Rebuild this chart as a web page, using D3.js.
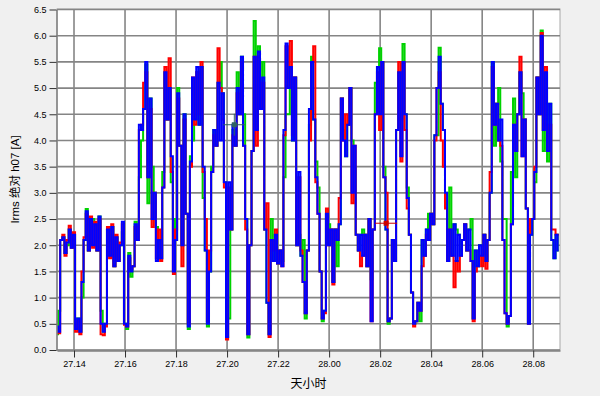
<!DOCTYPE html>
<html>
<head>
<meta charset="utf-8">
<script src="https://cdn.jsdelivr.net/npm/d3@7/dist/d3.min.js"></script>
<style>
  html, body { margin: 0; padding: 0; background: #f0f0f0; }
  svg { display: block; font-family: "Liberation Sans", Arial, sans-serif; }
</style>
</head>
<body>
<svg id="chart" width="600" height="396"></svg>
<script>
// samples every 5 minutes starting at 27.13:20
var startTime = "2021-01-27 13:20";
var endTime = "2021-01-28 09:03";
var stepMinutes = 5;

var blueValues = [
  0.45,0.35,2.1,2.15,1.85,2.05,2.3,1.95,2.2,0.4,
  0.6,0.35,1.3,2.1,2.65,1.9,2.5,2.0,2.4,1.9,
  2.55,0.5,0.35,0.5,2.3,1.8,2.35,1.6,2.15,1.7,
  2.0,2.45,0.5,0.45,1.8,1.5,1.6,2.4,2.1,4.3,
  4.2,4.6,5.5,3.3,4.8,2.5,3.0,1.7,2.1,1.75,
  3.1,5.3,4.4,5.0,3.7,1.5,2.1,4.9,3.9,2.0,
  4.5,2.6,0.45,3.6,5.2,4.4,5.4,4.3,5.4,3.5,
  1.9,0.5,1.5,3.4,4.2,3.9,5.1,4.0,4.9,3.2,
  0.25,3.2,2.3,4.3,3.9,5.0,4.5,5.6,3.9,2.5,
  0.3,2.0,3.8,5.6,4.2,5.7,4.6,5.2,2.3,0.9,
  0.3,2.1,1.7,2.2,1.65,1.9,1.6,4.2,5.85,5.0,
  5.4,4.0,5.2,2.0,3.4,1.8,1.3,0.7,1.9,4.6,
  5.5,4.4,3.3,2.6,1.5,0.6,0.75,2.6,2.0,2.3,
  1.3,2.3,2.1,2.4,4.8,4.0,3.7,4.3,5.0,3.0,
  3.9,2.2,1.9,2.2,1.8,2.2,1.6,2.5,0.55,2.3,
  4.5,5.4,4.5,5.5,3.3,2.3,0.55,0.6,2.1,1.7,
  4.2,5.3,3.7,5.5,4.5,2.9,2.2,1.1,0.5,0.55,
  0.9,0.75,2.1,1.8,2.3,2.1,2.6,2.4,4.1,5.0,
  5.6,4.7,4.2,3.0,1.7,2.3,1.8,2.4,1.7,2.2,
  1.8,2.1,2.4,1.9,2.3,1.7,0.6,1.9,1.6,2.0,
  1.8,2.2,1.7,2.1,3.0,5.5,4.3,4.7,4.0,4.4,
  2.1,0.7,0.5,0.65,2.4,4.3,3.8,4.5,5.3,3.7,
  4.4,2.7,0.5,2.2,2.5,3.4,5.2,4.5,6.0,4.2,
  5.3,3.8,4.7,2.1,1.75,2.2,1.9
];

var redValues = [
  0.4,0.32,2.1,2.2,1.8,2.1,2.37,1.95,2.25,0.35,
  0.55,0.3,1.5,2.15,2.6,1.9,2.55,1.95,2.45,1.9,
  2.5,0.3,0.28,0.45,2.35,1.75,2.4,1.6,2.2,1.7,
  2.05,2.4,0.48,0.45,1.75,1.55,1.6,2.35,2.1,4.2,
  4.3,5.1,5.3,3.3,4.6,2.35,3.0,1.75,2.3,1.7,
  3.1,5.4,4.4,5.57,3.4,1.45,2.3,4.8,3.9,1.6,
  4.4,2.6,0.5,3.5,5.2,4.3,5.3,4.5,5.5,3.4,
  2.5,0.55,1.9,3.4,4.1,3.9,5.76,5.0,4.4,3.1,
  0.2,3.1,2.3,4.1,3.9,4.9,4.5,5.5,3.9,2.3,
  0.3,2.0,3.8,5.6,3.9,5.6,4.6,5.1,2.3,2.8,
  0.25,2.1,1.9,2.3,1.65,1.9,1.6,4.1,5.8,5.0,
  5.9,4.1,5.2,2.0,3.3,1.9,1.3,0.7,1.9,4.0,
  5.5,5.8,3.2,2.6,1.5,0.6,0.7,2.7,2.0,2.3,
  1.25,2.3,2.1,2.9,4.8,4.0,4.5,4.3,5.0,2.8,
  3.9,2.2,1.9,1.6,1.8,2.2,1.6,2.5,0.55,2.3,
  4.5,5.3,4.2,5.5,3.3,3.0,0.55,0.6,2.1,1.7,
  4.2,5.5,3.6,5.5,4.2,2.7,2.2,1.1,0.45,0.55,
  0.9,0.75,1.6,1.8,2.2,2.1,2.6,2.4,4.0,5.0,
  5.3,4.0,3.5,2.7,1.7,2.3,1.8,1.2,1.7,1.5,
  1.8,2.1,2.4,1.9,1.9,1.7,0.55,1.5,1.6,1.8,
  1.6,2.2,1.55,2.1,3.4,5.4,4.3,4.7,4.0,3.9,
  2.1,0.7,0.5,0.65,2.4,4.3,3.8,4.5,5.6,3.7,
  4.4,2.7,0.5,2.5,2.5,3.5,5.2,4.5,6.05,4.2,
  5.4,3.8,4.3,2.3,2.3,2.2,2.2
];

var greenValues = [
  0.3,0.75,2.1,2.15,1.85,2.0,2.3,1.95,2.2,0.4,
  0.6,0.35,1.0,2.1,2.69,1.9,2.5,2.5,2.4,1.9,
  2.55,0.75,0.35,0.5,2.3,1.8,2.35,1.6,2.15,1.7,
  2.0,2.25,0.5,0.4,1.85,1.4,1.6,2.45,2.1,3.3,
  4.0,4.6,5.45,2.8,4.8,3.5,3.0,2.35,2.1,1.75,
  3.4,5.3,4.4,5.0,3.2,2.5,2.1,5.0,3.9,2.0,
  4.5,2.6,0.4,3.7,4.0,4.4,5.3,4.3,5.4,2.9,
  1.9,0.45,1.5,3.5,4.2,3.9,5.1,5.5,4.9,3.2,
  0.25,0.6,2.3,4.2,3.9,5.3,4.5,5.6,4.5,2.5,
  0.24,2.0,3.8,6.28,4.2,5.8,4.6,5.5,2.3,0.9,
  0.3,2.5,1.7,2.2,1.65,1.9,1.7,3.3,4.5,4.5,
  5.4,4.0,5.2,2.0,2.2,1.8,2.1,0.6,1.9,4.3,
  5.6,4.4,3.6,3.1,1.5,0.55,0.75,2.6,2.4,2.3,
  1.3,2.3,1.6,2.4,4.8,4.2,3.7,4.3,5.0,4.0,
  3.5,2.2,1.9,2.2,2.3,2.2,1.6,2.5,1.35,2.3,
  5.1,5.4,5.76,5.5,3.5,2.3,0.5,0.6,2.1,1.7,
  4.2,5.3,4.4,5.84,4.5,3.1,2.2,1.1,0.5,0.55,
  0.9,0.55,2.1,1.8,2.3,2.6,2.6,2.4,4.1,4.1,
  5.77,4.7,4.2,3.0,1.7,3.1,1.8,2.4,2.3,2.2,
  1.8,2.1,2.4,1.9,2.3,2.5,0.6,1.9,1.6,2.0,
  2.0,2.2,1.7,2.1,3.0,5.5,3.9,4.7,5.0,3.6,
  2.5,2.5,0.45,0.65,3.4,4.8,3.3,4.5,5.3,4.9,
  4.4,2.7,0.5,2.2,2.5,3.2,5.2,4.5,6.1,3.8,
  5.3,3.6,4.7,2.1,1.75,2.2,1.9
];

var yTicks = [0,0.5,1,1.5,2,2.5,3,3.5,4,4.5,5,5.5,6,6.5];

// the two cursor markers sitting on the plot
var cursorTimes = ["2021-01-27 20:17", "2021-01-28 02:14"];
var cursorValues = [4.3, 2.42];
var cursorColors = ["#2f6363", "#cc0000"];

var parse = d3.timeParse("%Y-%m-%d %H:%M");
var t0 = parse(startTime);

function toPoints(values) {
  return values.map(function(v, i) {
    return { t: d3.timeMinute.offset(t0, i * stepMinutes), v: v };
  });
}

var svg = d3.select("#chart");
var plotLeft = 57, plotRight = 560, plotTop = 9, plotBottom = 350;

var x = d3.scaleTime()
  .domain([t0, parse(endTime)])
  .range([plotLeft, plotRight]);

var y = d3.scaleLinear()
  .domain([0, 6.5])
  .range([plotBottom, plotTop + 0.5]);

svg.append("rect")
  .attr("width", 600).attr("height", 396)
  .attr("fill", "#f0f0f0");

svg.append("rect")
  .attr("x", plotLeft).attr("y", plotTop)
  .attr("width", plotRight - plotLeft).attr("height", plotBottom - plotTop)
  .attr("fill", "#ffffff")
  .attr("stroke", "#a8a8a8")
  .attr("stroke-width", 1);

// grid
var xTicks = x.ticks(d3.timeHour.every(2));

svg.append("g").selectAll("line")
  .data(yTicks)
  .enter().append("line")
  .attr("x1", plotLeft).attr("x2", plotRight)
  .attr("y1", function(d) { return y(d); })
  .attr("y2", function(d) { return y(d); })
  .attr("stroke", "#858585")
  .attr("stroke-width", 1.6);

svg.append("g").selectAll("line")
  .data(xTicks)
  .enter().append("line")
  .attr("x1", function(d) { return x(d); })
  .attr("x2", function(d) { return x(d); })
  .attr("y1", plotTop).attr("y2", plotBottom)
  .attr("stroke", "#858585")
  .attr("stroke-width", 1.6);

// series, blue on top
svg.append("clipPath").attr("id", "plotclip")
  .append("rect")
  .attr("x", plotLeft).attr("y", plotTop)
  .attr("width", plotRight - plotLeft).attr("height", plotBottom - plotTop);

// dense logger data: draw as steps so it reads as vertical strokes
var line = d3.line()
  .curve(d3.curveStep)
  .x(function(d) { return x(d.t); })
  .y(function(d) { return y(d.v); });

var series = [
  { values: greenValues, color: "#00d200" },
  { values: redValues, color: "#ff0000" },
  { values: blueValues, color: "#0000ff" }
];

svg.append("g")
  .attr("clip-path", "url(#plotclip)")
  .selectAll("path")
  .data(series)
  .enter().append("path")
  .attr("d", function(d) { return line(toPoints(d.values)); })
  .attr("fill", "none")
  .attr("stroke", function(d) { return d.color; })
  .attr("stroke-width", 2)
  .attr("stroke-linejoin", "miter");

// cursors
cursorTimes.forEach(function(c, i) {
  var cx = x(parse(c)), cy = y(cursorValues[i]);
  var g = svg.append("g");
  g.append("line")
    .attr("x1", cx - 11).attr("x2", cx + 11)
    .attr("y1", cy).attr("y2", cy)
    .attr("stroke", cursorColors[i]).attr("stroke-width", 1);
  if (i == 0) {
    g.append("line")
      .attr("x1", cx).attr("x2", cx)
      .attr("y1", cy - 11).attr("y2", cy + 11)
      .attr("stroke", cursorColors[i]).attr("stroke-width", 1);
  }
  g.append("rect")
    .attr("x", cx - 2.5).attr("y", cy - 2.5)
    .attr("width", 5).attr("height", 5)
    .attr("fill", cursorColors[i]);
});

// axes
var yAxis = svg.append("g")
  .attr("transform", "translate(" + (plotLeft - 0.5) + ",0)")
  .call(d3.axisLeft(y).tickValues(yTicks).tickFormat(d3.format(".1f"))
    .tickSizeInner(7).tickSizeOuter(0).tickPadding(3));

var xAxis = svg.append("g")
  .attr("transform", "translate(0," + (plotBottom + 0.5) + ")")
  .call(d3.axisBottom(x).tickValues(xTicks).tickFormat(d3.timeFormat("%d.%H"))
    .tickSizeInner(7).tickSizeOuter(0).tickPadding(3));

[yAxis, xAxis].forEach(function(a) {
  a.select(".domain").attr("stroke", "#808080").attr("stroke-width", 1.5);
  a.selectAll(".tick line").attr("stroke", "#303030");
  a.selectAll(".tick text")
    .attr("fill", "#000")
    .style("font-size", "9px")
    .style("font-family", "'Liberation Sans', Arial, sans-serif");
});

// axis titles
svg.append("text")
  .attr("transform", "translate(15," + ((plotTop + plotBottom) / 2) + ") rotate(-90)")
  .attr("text-anchor", "middle")
  .attr("dy", "0.35em")
  .style("font-size", "11.5px")
  .style("font-family", "'Liberation Sans', 'Noto Sans CJK SC', sans-serif")
  .text("Irms 绝对 h07 [A]");

svg.append("text")
  .attr("x", (plotLeft + plotRight) / 2)
  .attr("y", 388)
  .attr("text-anchor", "middle")
  .style("font-size", "12px")
  .style("font-family", "'Noto Sans CJK SC', sans-serif")
  .text("天小时");
</script>
</body>
</html>
